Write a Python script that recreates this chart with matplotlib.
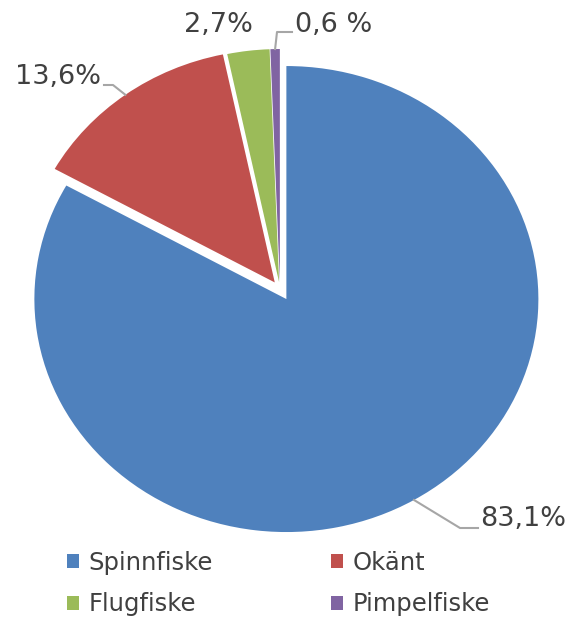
import matplotlib.pyplot as plt
import numpy as np
from matplotlib.patches import Patch

# data
categories = ['Spinnfiske', 'Okänt', 'Flugfiske', 'Pimpelfiske']
shares = [83.1, 13.6, 2.7, 0.6]
labels = ['83,1%', '13,6%', '2,7%', '0,6 %']
colors = ['#4F81BD', '#C0504D', '#9BBB59', '#8064A2']

W, H = 572, 621
CX, CY = 280, 289      # pie centre in pixels (from top-left)
RX, RY = 252, 233      # pie radii in pixels (chart is a bit wider than tall)
explode = [0.05, 0.035, 0.03, 0.03]

fig = plt.figure(figsize=(W / 100, H / 100), dpi=100)
ax = fig.add_axes([0, 0, 1, 1])


def px(x, y):
    # pixel position -> data coords (pie radius = 1)
    return (x - CX) / RX, (CY - y) / RY


wedges, _ = ax.pie(shares, colors=colors, startangle=90, counterclock=False,
                   explode=explode, radius=1, wedgeprops=dict(linewidth=0))
ax.set_aspect('auto')
ax.set_xlim(-CX / RX, (W - CX) / RX)
ax.set_ylim(-(H - CY) / RY, CY / RY)
ax.axis('off')

# mid angle of each wedge -> edge point for leader lines
edge = []
for w in wedges:
    th = np.deg2rad((w.theta1 + w.theta2) / 2)
    cx, cy = w.center
    edge.append((cx + np.cos(th), cy + np.sin(th)))

txt = dict(fontsize=19.5, color='#404040', va='center')
line = dict(color='#A6A6A6', lw=1.5)

# 83,1%
e = edge[0]
p1, p2 = px(460, 528), px(478, 528)
ax.plot([e[0], p1[0], p2[0]], [e[1], p1[1], p2[1]], **line)
ax.text(*px(480, 519), labels[0], ha='left', **txt)

# 13,6%
e = edge[1]
p1, p2 = px(113, 85), px(104, 85)
ax.plot([e[0], p1[0], p2[0]], [e[1], p1[1], p2[1]], **line)
ax.text(*px(101, 77), labels[1], ha='right', **txt)

# 2,7%
ax.text(*px(218, 25), labels[2], ha='center', **txt)

# 0,6 %
e = edge[3]
p1, p2 = px(277, 32), px(292, 32)
ax.plot([e[0], p1[0], p2[0]], [e[1], p1[1], p2[1]], **line)
ax.text(*px(295, 25), labels[3], ha='left', **txt)

# legend: column-wise fill, so order Spinnfiske, Flugfiske, Okänt, Pimpelfiske
order = [0, 2, 1, 3]
handles = [Patch(facecolor=colors[i], edgecolor='none', label=categories[i]) for i in order]
leg = fig.legend(handles=handles, ncol=2, loc='upper left',
                 bbox_to_anchor=(67 / W, 1 - 551 / H), frameon=False,
                 fontsize=17.5, handlelength=0.5, handleheight=0.5,
                 handletextpad=0.4, columnspacing=4.85, labelspacing=0.72,
                 borderpad=0, borderaxespad=0)
for t in leg.get_texts():
    t.set_color('#404040')

fig.savefig('out.png', dpi=100)
